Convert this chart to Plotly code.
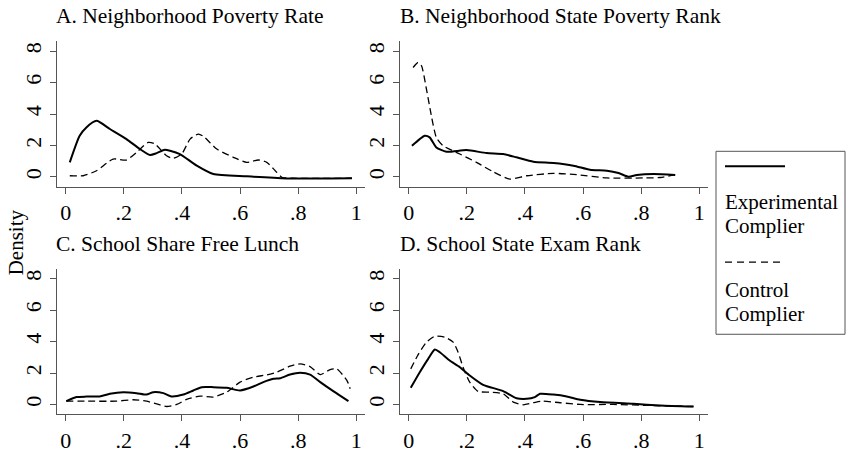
import plotly.graph_objects as go

# ---------------- data ----------------
x_ticks = [0, 0.2, 0.4, 0.6, 0.8, 1]
x_tick_text = ["0", ".2", ".4", ".6", ".8", "1"]
y_ticks = [0, 2, 4, 6, 8]
y_tick_text = ["0", "2", "4", "6", "8"]

panel_titles = ["A. Neighborhood Poverty Rate", "B. Neighborhood State Poverty Rank",
                "C. School Share Free Lunch", "D. School State Exam Rank"]
series_names = ["Experimental Complier", "Control Complier"]

# Panel A
a_exp_x = [0.014, 0.048, 0.071, 0.106, 0.152, 0.209, 0.255, 0.29, 0.313, 0.341, 0.359, 0.393,
           0.451, 0.508, 0.623, 0.761, 0.985]
a_exp_y = [0.93, 2.62, 3.15, 3.57, 3.05, 2.41, 1.78, 1.40, 1.52, 1.73, 1.67, 1.46,
           0.72, 0.19, 0.04, -0.09, -0.08]
a_ctl_x = [0.014, 0.06, 0.106, 0.163, 0.209, 0.244, 0.284, 0.307, 0.347, 0.37, 0.399, 0.428,
           0.456, 0.473, 0.52, 0.577, 0.623, 0.663, 0.692, 0.721, 0.744, 0.78, 0.985]
a_ctl_y = [0.08, 0.08, 0.40, 1.14, 1.08, 1.57, 2.20, 2.10, 1.35, 1.19, 1.46, 2.41,
           2.73, 2.60, 1.78, 1.25, 0.93, 1.08, 0.93, 0.40, -0.02, -0.08, -0.08]

# Panel B
b_exp_x = [0.011, 0.038, 0.055, 0.072, 0.095, 0.13, 0.199, 0.268, 0.325, 0.371, 0.429, 0.498,
           0.567, 0.624, 0.682, 0.722, 0.756, 0.785, 0.843, 0.917]
b_exp_y = [1.99, 2.41, 2.62, 2.52, 1.88, 1.61, 1.71, 1.52, 1.46, 1.25, 0.97, 0.89,
           0.72, 0.46, 0.40, 0.25, 0.02, 0.13, 0.19, 0.13]
b_ctl_x = [0.015, 0.032, 0.044, 0.061, 0.078, 0.095, 0.118, 0.176, 0.233, 0.29, 0.348, 0.406,
           0.498, 0.578, 0.682, 0.808, 0.866, 0.917]
b_ctl_y = [6.96, 7.28, 7.07, 5.59, 3.89, 2.52, 1.99, 1.46, 0.93, 0.34, -0.13, 0.08,
           0.23, 0.15, -0.06, -0.06, -0.03, 0.15]

# Panel C
c_exp_x = [0.002, 0.037, 0.071, 0.117, 0.152, 0.198, 0.244, 0.278, 0.301, 0.336, 0.364, 0.405,
           0.439, 0.468, 0.508, 0.554, 0.6, 0.646, 0.68, 0.715, 0.738, 0.772, 0.807, 0.841,
           0.876, 0.922, 0.973]
c_exp_y = [0.21, 0.47, 0.50, 0.51, 0.68, 0.78, 0.72, 0.63, 0.78, 0.72, 0.51, 0.63,
           0.89, 1.10, 1.10, 1.06, 0.89, 1.14, 1.42, 1.63, 1.67, 1.90, 2.01, 1.90,
           1.42, 0.83, 0.21]
c_ctl_x = [0.002, 0.071, 0.174, 0.232, 0.278, 0.313, 0.347, 0.382, 0.416, 0.462, 0.508, 0.554,
           0.6, 0.646, 0.692, 0.726, 0.772, 0.807, 0.841, 0.876, 0.91, 0.933, 0.968, 0.979]
c_ctl_y = [0.21, 0.21, 0.21, 0.30, 0.21, 0.04, -0.13, 0.00, 0.32, 0.53, 0.47, 0.78,
           1.42, 1.74, 1.88, 2.05, 2.43, 2.58, 2.41, 1.90, 2.22, 2.26, 1.52, 1.00]

# Panel D
d_exp_x = [0.007, 0.038, 0.067, 0.09, 0.107, 0.141, 0.176, 0.21, 0.256, 0.325, 0.371, 0.406,
           0.434, 0.452, 0.498, 0.544, 0.59, 0.659, 0.773, 0.866, 0.98]
d_exp_y = [1.06, 2.05, 2.90, 3.49, 3.32, 2.79, 2.37, 1.84, 1.25, 0.85, 0.40, 0.36,
           0.47, 0.68, 0.63, 0.51, 0.30, 0.15, 0.04, -0.06, -0.13]
d_ctl_x = [0.007, 0.032, 0.061, 0.09, 0.124, 0.153, 0.17, 0.187, 0.21, 0.239, 0.279, 0.325,
           0.36, 0.394, 0.429, 0.458, 0.521, 0.59, 0.705, 0.82, 0.98]
d_ctl_y = [2.26, 3.15, 3.96, 4.34, 4.28, 3.96, 3.32, 2.37, 1.42, 0.83, 0.78, 0.68,
           0.15, -0.02, 0.11, 0.21, 0.11, 0.00, 0.00, -0.06, -0.13]

# ---------------- figure ----------------
FONT = "Liberation Serif, Times New Roman, Times, serif"
W, H = 846, 453
DASH = "7px,4px"

def px_x(p):
    return p / W

def px_y(p):
    return 1 - p / H

panels = [
    (a_exp_x, a_exp_y, a_ctl_x, a_ctl_y),
    (b_exp_x, b_exp_y, b_ctl_x, b_ctl_y),
    (c_exp_x, c_exp_y, c_ctl_x, c_ctl_y),
    (d_exp_x, d_exp_y, d_ctl_x, d_ctl_y),
]
x_domains = [[px_x(57), px_x(365)], [px_x(400), px_x(708)]]
y_domains = [[px_y(189), px_y(41.7)], [px_y(419), px_y(271.7)]]
title_pos = [(54, 16), (398, 16), (54, 247), (398, 247)]

fig = go.Figure()
layout = dict(
    width=W, height=H, autosize=False,
    margin=dict(l=0, r=0, t=0, b=0),
    paper_bgcolor="white", plot_bgcolor="white",
    showlegend=False,
    hovermode=False,
    font=dict(family=FONT, color="black"),
)

annotations = []
for i, (ex, ey, cx, cy) in enumerate(panels):
    n = i + 1
    xa = "x" if n == 1 else f"x{n}"
    ya = "y" if n == 1 else f"y{n}"
    fig.add_trace(go.Scatter(x=cx, y=cy, mode="lines", name=series_names[1], xaxis=xa, yaxis=ya,
                             line=dict(color="black", width=1.3, dash=DASH, shape="spline", smoothing=0.6)))
    fig.add_trace(go.Scatter(x=ex, y=ey, mode="lines", name=series_names[0], xaxis=xa, yaxis=ya,
                             line=dict(color="black", width=2, shape="spline", smoothing=0.6)))
    col = i % 2
    row = i // 2
    common = dict(showgrid=False, zeroline=False, showline=True, linecolor="#555", linewidth=1,
                  ticks="outside", ticklen=6, tickcolor="#555", tickwidth=1,
                  tickfont=dict(family=FONT, size=22, color="black"))
    layout["xaxis" if n == 1 else f"xaxis{n}"] = dict(
        domain=x_domains[col], anchor=ya, range=[-0.03, 1.03],
        tickvals=x_ticks, ticktext=x_tick_text, **common)
    layout["yaxis" if n == 1 else f"yaxis{n}"] = dict(
        domain=y_domains[row], anchor=xa, range=[-0.63, 8.63],
        tickvals=y_ticks, ticktext=y_tick_text, tickangle=-90, **common)
    tx, ty = title_pos[i]
    annotations.append(dict(text=panel_titles[i], x=px_x(tx), y=px_y(ty), xref="paper", yref="paper",
                            xanchor="left", yanchor="middle", showarrow=False,
                            font=dict(family=FONT, size=21.5, color="black")))

annotations.append(dict(text="Density", x=px_x(16), y=px_y(245), xref="paper", yref="paper",
                        textangle=-90, xanchor="center", yanchor="middle", showarrow=False,
                        font=dict(family=FONT, size=21, color="black")))

# legend drawn as a box with sample lines and labels
shapes = [
    dict(type="rect", xref="paper", yref="paper", x0=px_x(716), x1=px_x(845), y0=px_y(338), y1=px_y(153),
         line=dict(color="#555", width=1), fillcolor="white"),
    dict(type="line", xref="paper", yref="paper", x0=px_x(725), x1=px_x(785), y0=px_y(168), y1=px_y(168),
         line=dict(color="black", width=2)),
    dict(type="line", xref="paper", yref="paper", x0=px_x(725), x1=px_x(785), y0=px_y(265), y1=px_y(265),
         line=dict(color="black", width=1.3, dash="7px,5px")),
]
legend_lines = [("Experimental", 204), ("Complier", 229), ("Control", 293), ("Complier", 318)]
for txt, yy in legend_lines:
    annotations.append(dict(text=txt, x=px_x(723), y=px_y(yy), xref="paper", yref="paper",
                            xanchor="left", yanchor="middle", showarrow=False,
                            font=dict(family=FONT, size=21, color="black")))

layout["annotations"] = annotations
layout["shapes"] = shapes
fig.update_layout(**layout)
fig.write_html("out.html",
               config={"displayModeBar": False, "staticPlot": True},
               post_script="document.body.style.margin='0';document.body.style.overflow='hidden';")
